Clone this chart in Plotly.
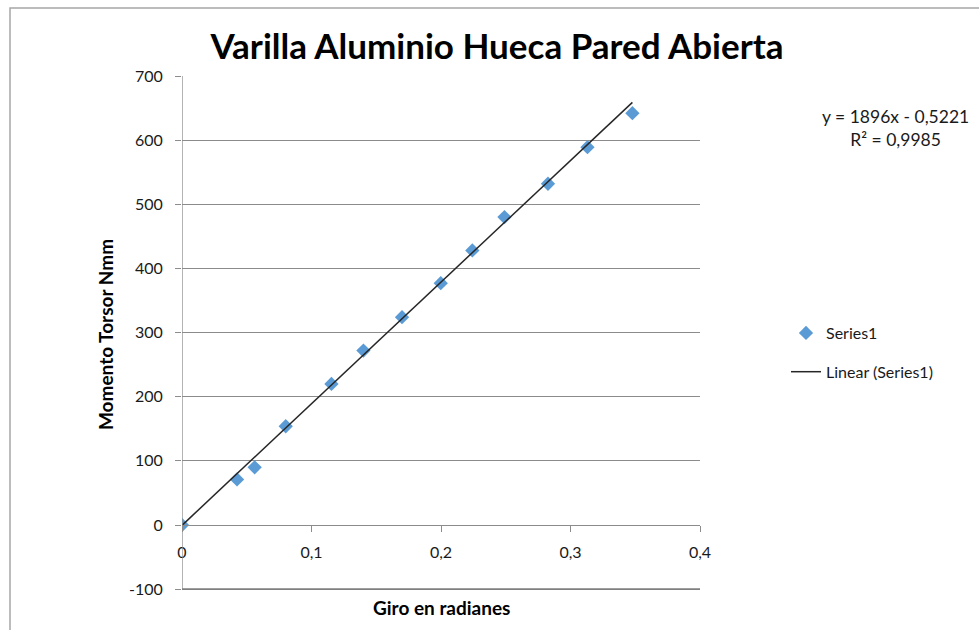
import numpy as np
import plotly.graph_objects as go

# Measured twist angle (rad) and torque (N·mm)
giro = [0.0, 0.0425, 0.0561, 0.0801, 0.1154, 0.1401, 0.1699, 0.1998,
        0.2242, 0.2490, 0.2826, 0.3131, 0.3478]
momento = [0, 71, 90, 154, 220, 272, 324, 377, 428, 480, 532, 589, 642]

# Linear trendline coefficients and fit quality
pendiente = 1896
ordenada = -0.5221
r2 = 0.9985

y_ticks = [-100, 0, 100, 200, 300, 400, 500, 600, 700]
y_labels = ["-100", "0", "100", "200", "300", "400", "500", "600", "700"]
x_ticks = [0, 0.1, 0.2, 0.3, 0.4]
x_labels = ["0", "0,1", "0,2", "0,3", "0,4"]

FONT = "Lato, Calibri, sans-serif"
GRID = "#8c8c8c"

x_fit = np.array([0.0, max(giro)])
y_fit = pendiente * x_fit + ordenada

x_range = [min(x_ticks), max(x_ticks)]
y_range = [min(y_ticks) - 6, max(y_ticks)]
zero_pos = (0 - y_range[0]) / (y_range[1] - y_range[0])

fig = go.Figure()
fig.add_trace(go.Scatter(
    x=giro, y=momento, mode="markers", name="Series1", legendgroup="a",
    marker=dict(symbol="diamond", size=11, color="#5b9bd5"),
))
fig.add_trace(go.Scatter(
    x=x_fit, y=y_fit, mode="lines", name="Linear (Series1)", legendgroup="b",
    line=dict(color="#262626", width=1.5),
))

L, R, T, B = 182, 279, 76, 37
PW, PH = 979 - L - R, 630 - T - B


def px_x(px):
    return (px - L) / PW


def px_y(py):
    return (630 - B - py) / PH


fig.update_layout(
    width=979, height=630,
    margin=dict(l=L, r=R, t=T, b=B),
    paper_bgcolor="white", plot_bgcolor="white",
    separators=",.",
    font=dict(family=FONT, size=15, color="#1a1a1a"),
    title=dict(
        text="<b>Varilla Aluminio Hueca Pared Abierta</b>",
        x=497 / 979, xanchor="center", y=1 - 47 / 630, yanchor="middle",
        font=dict(family=FONT, size=35, color="#000000"),
    ),
    # horizontal axis crossing at y = 0
    xaxis=dict(
        range=x_range, tickvals=x_ticks, ticktext=x_labels,
        anchor="free", position=zero_pos, side="bottom",
        showline=True, linecolor=GRID, linewidth=1.3,
        ticks="outside", ticklen=6, tickcolor=GRID, tickwidth=1.3,
        ticklabelstandoff=7,
        showgrid=False, zeroline=False,
        tickfont=dict(size=16, color="#1a1a1a"),
    ),
    yaxis=dict(
        range=y_range, tickvals=y_ticks, ticktext=y_labels,
        ticks="outside", ticklen=6, tickcolor=GRID, tickwidth=1.3,
        ticklabelstandoff=9,
        showgrid=True, gridcolor=GRID, gridwidth=1.3,
        zeroline=False, showline=False,
        tickfont=dict(size=16, color="#1a1a1a"),
        title=dict(text="<b>Momento Torsor Nmm</b>", standoff=10,
                   font=dict(size=19, color="#000000")),
    ),
    legend=dict(
        x=px_x(786), xanchor="left",
        y=px_y(316), yanchor="top",
        font=dict(size=16, color="#1a1a1a"),
        bgcolor="rgba(0,0,0,0)", tracegroupgap=15, traceorder="grouped",
    ),
    showlegend=True,
)

# vertical axis line between the lowest and highest tick
fig.add_shape(
    type="line", xref="x", yref="y", layer="above",
    x0=x_range[0], x1=x_range[0], y0=min(y_ticks), y1=max(y_ticks),
    line=dict(color=GRID, width=1.3),
)
# gridline at the lowest tick
fig.add_shape(
    type="line", xref="x", yref="y", layer="above",
    x0=x_range[0], x1=x_range[1], y0=min(y_ticks), y1=min(y_ticks),
    line=dict(color="#7f7f7f", width=1.6),
)

# x-axis title below the plot
fig.add_annotation(
    text="<b>Giro en radianes</b>", xref="paper", yref="paper",
    x=px_x(441), y=px_y(607), xanchor="center", yanchor="middle",
    showarrow=False,
    font=dict(family=FONT, size=19, color="#000000"),
)

# trendline equation
fig.add_annotation(
    text=f"y = {pendiente}x - {str(abs(ordenada)).replace('.', ',')}<br>"
         f"R² = {str(r2).replace('.', ',')}",
    xref="paper", yref="paper",
    x=px_x(895), y=px_y(128),
    xanchor="center", yanchor="middle", showarrow=False, align="center",
    font=dict(family=FONT, size=17.5, color="#1a1a1a"),
)

# chart area frame
fig.add_shape(
    type="rect", xref="paper", yref="paper",
    x0=px_x(10), x1=2.0, y0=-0.3, y1=px_y(8),
    line=dict(color="#a6a6a6", width=1.5), fillcolor="rgba(0,0,0,0)",
    layer="below",
)

fig.write_html("out.html")
